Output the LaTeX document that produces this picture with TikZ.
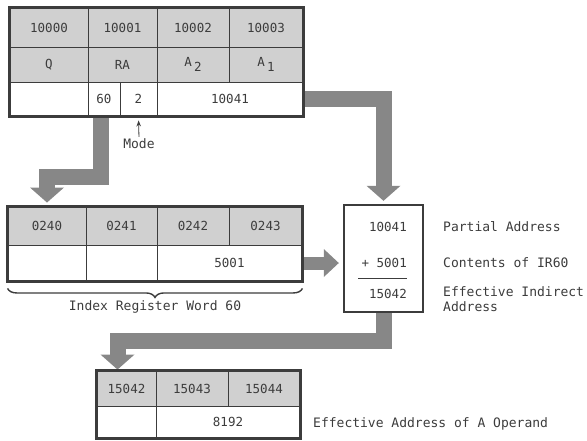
\documentclass[tikz,border=0pt]{standalone}
\usepackage{fontspec}
\usetikzlibrary{arrows.meta, positioning, calc, decorations.pathreplacing}
\newfontfamily\typefont{DejaVu Sans Mono}
\definecolor{inkgray}{RGB}{60,60,60}
\definecolor{tonegray}{RGB}{208,208,208}
\definecolor{bandgray}{RGB}{135,135,135}

\begin{document}
\begin{tikzpicture}[x=1pt, y=-1pt,
    cell/.style={rectangle, draw=inkgray, line width=0.9pt, inner sep=0pt, font=\typefont\fontsize{12.5}{14}\selectfont, text=inkgray},
    shaded/.style={cell, fill=tonegray},
    frame/.style={draw=inkgray, line width=2.4pt},
    band/.style={draw=bandgray, line width=16pt, line join=miter, -{Triangle[width=34pt, length=15pt, line width=0pt]}},
    note/.style={font=\typefont\fontsize{13}{15}\selectfont, text=inkgray, inner sep=0pt},
    sumtext/.style={font=\typefont\fontsize{12.5}{14}\selectfont, text=inkgray, inner sep=0pt, anchor=east}
  ]
  \useasboundingbox (0,0) rectangle (587,440);

  % instruction word
  \node[shaded, minimum width=78pt, minimum height=39pt] (t10000) at (49,27.5) {10000};
  \node[shaded, minimum width=69pt, minimum height=39pt] (t10001) at (122.5,27.5) {10001};
  \node[shaded, minimum width=72pt, minimum height=39pt] (t10002) at (193,27.5) {10002};
  \node[shaded, minimum width=74pt, minimum height=39pt] (t10003) at (266,27.5) {10003};
  \node[shaded, minimum width=78pt, minimum height=35pt] (opq) at (49,64.5) {Q};
  \node[shaded, minimum width=69pt, minimum height=35pt] (opra) at (122.5,64.5) {RA};
  \node[shaded, minimum width=72pt, minimum height=35pt] (opa2) at (193,64.5) {A\,\raisebox{-4.5pt}{2}};
  \node[shaded, minimum width=74pt, minimum height=35pt] (opa1) at (266,64.5) {A\,\raisebox{-4.5pt}{1}};
  \node[cell, minimum width=78pt, minimum height=34pt] (fblank) at (49,99) {};
  \node[cell, minimum width=32pt, minimum height=34pt] (f60) at (104,99) {60};
  \node[cell, minimum width=37pt, minimum height=34pt] (f2) at (138.5,99) {2};
  \node[cell, minimum width=146pt, minimum height=34pt] (f10041) at (230,99) {10041};

  \node[note] (mode) at (139,144) {Mode};
  \draw[-{Stealth[length=6pt, width=4.5pt]}, inkgray, line width=0.8pt, shorten >=4pt, shorten <=2pt] (mode.north) -- (f2.south);

  % index register word
  \node[shaded, minimum width=78pt, minimum height=38pt] (i0240) at (47,226) {0240};
  \node[shaded, minimum width=71pt, minimum height=38pt] (i0241) at (121.5,226) {0241};
  \node[shaded, minimum width=72pt, minimum height=38pt] (i0242) at (193,226) {0242};
  \node[shaded, minimum width=73pt, minimum height=38pt] (i0243) at (265.5,226) {0243};
  \node[cell, minimum width=78pt, minimum height=36pt] (iblank1) at (47,263) {};
  \node[cell, minimum width=71pt, minimum height=36pt] (iblank2) at (121.5,263) {};
  \node[cell, minimum width=145pt, minimum height=36pt] (i5001) at (229.5,263) {5001};
  \draw[decorate, decoration={brace, mirror, amplitude=9pt}, inkgray, line width=1.4pt]
    ($(iblank1.south west)+(0,7)$) -- ($(i5001.south east)+(0,7)$);
  \node[note] (irword) at (155,307) {Index Register Word 60};

  % address sum
  \node[rectangle, minimum width=79pt, minimum height=107pt] (sum) at (383.5,258.5) {};
  \node[sumtext] (spartial) at (407,227) {10041};
  \node[sumtext] (scontents) at (407,263) {+ 5001};
  \node[sumtext] (sresult) at (407,294) {15042};
  \draw[inkgray, line width=1pt] (358,278) -- (407,278);
  \node[note, anchor=west] (lpartial) at (443,227) {Partial Address};
  \node[note, anchor=west] (lcontents) at (443,263) {Contents of IR60};
  \node[note, anchor=north west, align=left] (lindirect) at (443,286) {Effective Indirect\\Address};

  % operand
  \node[shaded, minimum width=59pt, minimum height=35pt] (b15042) at (126.5,388.5) {15042};
  \node[shaded, minimum width=72pt, minimum height=35pt] (b15043) at (192,388.5) {15043};
  \node[shaded, minimum width=72pt, minimum height=35pt] (b15044) at (264,388.5) {15044};
  \node[cell, minimum width=59pt, minimum height=32pt] (bblank) at (126.5,422) {};
  \node[cell, minimum width=144pt, minimum height=32pt] (b8192) at (228,422) {8192};
  \node[note, anchor=west] (leffective) at (313,424) {Effective Address of A Operand};

  % flow bands
  \draw[band, shorten >=4pt] ($(f60.south)+(-3,0)$) -- ($(f60.south |- 0,177)+(-3,0)$) -| (i0240.north);
  \draw[band, shorten >=4pt] (f10041.east) -| (sum.north);
  \draw[band, line width=13pt, shorten >=5pt, -{Triangle[width=28pt, length=15pt, line width=0pt]}] (i5001.east) -- (i5001.east -| sum.west);
  \draw[band, shorten >=1pt] (sum.south) -- (sum.south |- 0,341) -| ($(b15042.north)+(-9,0)$);

  % frames
  \draw[frame] (t10000.north west) rectangle (f10041.south east);
  \draw[frame] (i0240.north west) rectangle (i5001.south east);
  \draw[frame] (sum.north west) rectangle (sum.south east);
  \draw[frame] (b15042.north west) rectangle (b8192.south east);
\end{tikzpicture}
\end{document}
